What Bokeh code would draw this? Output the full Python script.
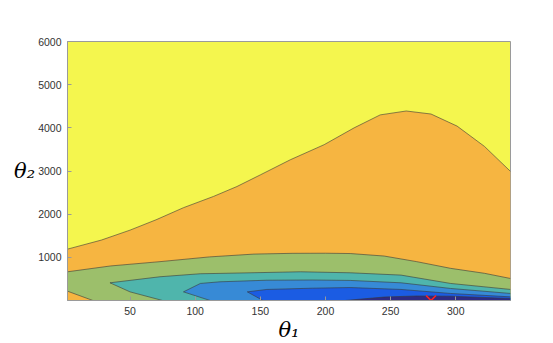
from bokeh.plotting import figure
from bokeh.models import Range1d, FixedTicker
from bokeh.embed import file_html
from bokeh.resources import INLINE

# axis ranges and ticks
x_min, x_max = 2, 342
y_min, y_max = 0, 6000
x_ticks = [50, 100, 150, 200, 250, 300]
y_ticks = [1000, 2000, 3000, 4000, 5000, 6000]

# contour boundaries (upper edge, lower edge from tip down to axis)
orange_up_x = [2, 28, 50, 70, 91, 114, 132, 150, 173, 199, 222, 242, 262, 281, 301, 322, 342]
orange_up_y = [1190, 1400, 1630, 1870, 2150, 2410, 2640, 2910, 3260, 3610, 4000, 4300, 4390, 4320, 4040, 3570, 2990]
orange_lo_x = []
orange_lo_y = []

green_up_x = [2, 35, 73, 111, 145, 175, 200, 219, 245, 270, 296, 322, 342]
green_up_y = [665, 800, 900, 1010, 1075, 1093, 1095, 1088, 1030, 900, 745, 630, 510]
green_lo_x = [2, 21.5]
green_lo_y = [216, 0]

teal_up_x = [34.6, 73, 104, 119, 181, 219, 258, 296, 342]
teal_up_y = [410, 550, 620, 628, 665, 642, 588, 395, 256]
teal_lo_x = [34.6, 50, 75]
teal_lo_y = [410, 200, 0]

blue_up_x = [91, 104, 119, 155, 190, 219, 258, 296, 342]
blue_up_y = [200, 395, 433, 470, 475, 465, 410, 279, 163]
blue_lo_x = [91, 111.5]
blue_lo_y = [200, 0]

dblue_up_x = [140, 155, 190, 219, 258, 296, 342]
dblue_up_y = [200, 256, 285, 300, 256, 163, 84]
dblue_lo_x = [140, 152]
dblue_lo_y = [200, 0]

navy_up_x = [215, 245, 270, 296, 342]
navy_up_y = [0, 80, 105, 100, 47]
navy_lo_x = []
navy_lo_y = []

# optimum marker
opt_x = [281]
opt_y = [0]

colors = {
    "yellow": "#F4F64E",
    "orange": "#F6B541",
    "green": "#9CBF6B",
    "teal": "#4FB5AC",
    "blue": "#378AD6",
    "dblue": "#1B5CE3",
    "navy": "#2E2B84",
}

levels = [
    ("orange", orange_up_x, orange_up_y, orange_lo_x, orange_lo_y),
    ("green", green_up_x, green_up_y, green_lo_x, green_lo_y),
    ("teal", teal_up_x, teal_up_y, teal_lo_x, teal_lo_y),
    ("blue", blue_up_x, blue_up_y, blue_lo_x, blue_lo_y),
    ("dblue", dblue_up_x, dblue_up_y, dblue_lo_x, dblue_lo_y),
    ("navy", navy_up_x, navy_up_y, navy_lo_x, navy_lo_y),
]

p = figure(
    frame_width=443, frame_height=259,
    min_border_left=67, min_border_right=35, min_border_top=41, min_border_bottom=35,
    x_range=Range1d(x_min, x_max), y_range=Range1d(y_min, y_max),
    output_backend="svg", toolbar_location=None,
)
p.background_fill_color = colors["yellow"]
p.border_fill_color = "white"
p.grid.visible = False

line_col = "#3a3a3a"
for name, ux, uy, lx, ly in levels:
    px = list(ux) + [x_max]
    py = list(uy) + [y_min]
    if lx:
        px += list(reversed(lx))
        py += list(reversed(ly))
    else:
        px += [ux[0] if name == "navy" else x_min]
        py += [y_min]
    p.patch(px, py, fill_color=colors[name], line_color=None)
    lxs = list(reversed(lx)) + list(ux)
    lys = list(reversed(ly)) + list(uy)
    p.line(lxs, lys, line_color=line_col, line_width=0.7, line_alpha=0.85)

p.scatter(opt_x, opt_y, marker="x", size=14, line_color="#FF2020", line_width=1.6)

for ax in (p.xaxis[0], p.yaxis[0]):
    ax.major_label_text_font = "Liberation Sans"
    ax.major_label_text_font_size = "10.5px"
    ax.major_label_text_color = "#333333"
    ax.axis_line_color = "#9a9a9a"
    ax.major_tick_line_color = "#9a9a9a"
    ax.major_tick_in = 4
    ax.major_tick_out = 0
    ax.minor_tick_line_color = None
    ax.major_label_standoff = 6

p.xaxis[0].ticker = FixedTicker(ticks=x_ticks)
p.yaxis[0].ticker = FixedTicker(ticks=y_ticks)
p.outline_line_color = "#9a9a9a"
p.outline_line_width = 1

p.xaxis[0].axis_label = "θ₁"
p.xaxis[0].axis_label_text_font = "DejaVu Serif"
p.xaxis[0].axis_label_text_font_style = "italic"
p.xaxis[0].axis_label_text_font_size = "21px"
p.xaxis[0].axis_label_text_color = "black"
p.xaxis[0].axis_label_standoff = 0

p.yaxis[0].axis_label = "θ₂"
p.yaxis[0].axis_label_orientation = "horizontal"
p.yaxis[0].axis_label_text_font = "DejaVu Serif"
p.yaxis[0].axis_label_text_font_style = "italic"
p.yaxis[0].axis_label_text_font_size = "21px"
p.yaxis[0].axis_label_text_color = "black"
p.yaxis[0].axis_label_text_baseline = "top"
p.yaxis[0].axis_label_standoff = 0

open("out.html", "w").write(file_html(p, INLINE))
